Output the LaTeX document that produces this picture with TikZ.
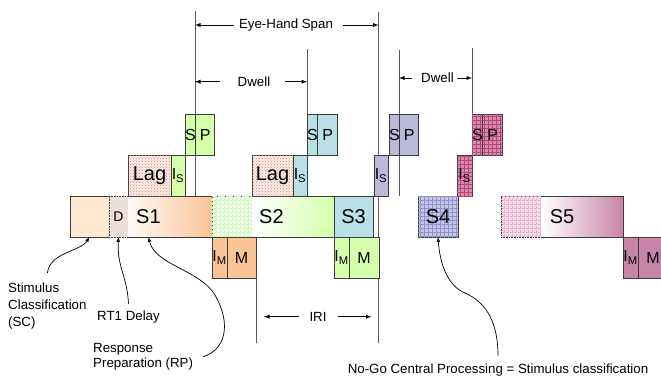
\documentclass[tikz,border=0pt]{standalone}
\usepackage{fontspec}
\setmainfont{Liberation Sans}
\usetikzlibrary{patterns,positioning,backgrounds,calc}
\tikzset{% change default arrow tips
    >=latex
}
% wider grid than the one of the patterns library
\pgfdeclarepatternformonly{wgrid}{\pgfqpoint{-1pt}{-1pt}}{\pgfqpoint{5pt}{5pt}}{\pgfqpoint{4pt}{4pt}}%
{
    \pgfsetlinewidth{0.5pt}
    \pgfpathmoveto{\pgfqpoint{0pt}{0pt}}
    \pgfpathlineto{\pgfqpoint{0pt}{4.1pt}}
    \pgfpathmoveto{\pgfqpoint{0pt}{0pt}}
    \pgfpathlineto{\pgfqpoint{4.1pt}{0pt}}
    \pgfusepath{stroke}
}
\definecolor{rimgrey}{RGB}{60,60,60}
\definecolor{lngrey}{RGB}{90,90,90}
\definecolor{peach}{RGB}{255,233,208}
\definecolor{dbeige}{RGB}{236,222,216}
\definecolor{orng}{RGB}{250,196,150}
\definecolor{lgreen}{RGB}{212,255,172}
\definecolor{ggrid}{RGB}{238,255,230}
\definecolor{ggridln}{RGB}{206,243,190}
\definecolor{lteal}{RGB}{184,224,230}
\definecolor{lav}{RGB}{186,186,216}
\definecolor{lavgrid}{RGB}{196,196,232}
\definecolor{lavln}{RGB}{145,145,202}
\definecolor{pkbase}{RGB}{216,138,176}
\definecolor{pkln}{RGB}{178,72,122}
\definecolor{pgrid}{RGB}{246,218,232}
\definecolor{pgridln}{RGB}{230,175,205}
\definecolor{mauve}{RGB}{200,132,166}
\definecolor{lagbase}{RGB}{250,236,230}
\definecolor{lagdot}{RGB}{210,140,125}

\begin{document}
\begin{tikzpicture}[x=1pt,y=-1pt]
    \newcommand{\hrow}{41} % height of every row of boxes
    \newcommand{\ysp}{114} % S P row
    \newcommand{\ylag}{155} % lag row
    \newcommand{\ymain}{196} % stages
    \newcommand{\ymot}{237} % motor row
    \newcommand{\ylow}{343} % lower end of the long lines
    \newcommand{\isub}[1]{I\textsubscript{#1}}

    % box styles
    \tikzset{
        blk/.style={draw=rimgrey, line width=0.6pt, anchor=north west,
            inner sep=0pt, outer sep=0pt, minimum height=\hrow,
            font=\fontsize{16}{16}\selectfont},
        bare/.style={blk, draw=none},
        dots/.style={blk, densely dotted},
        rim/.style={draw=rimgrey, line width=0.6pt},
        grd/.style={postaction={pattern=wgrid, pattern color=#1}},
        fgreen/.style={fill=lgreen},
        fteal/.style={fill=lteal},
        flav/.style={fill=lav},
        fpink/.style={fill=pkbase, grd=pkln},
        forng/.style={fill=orng},
        fmauve/.style={fill=mauve},
        flag/.style={fill=lagbase, postaction={pattern=crosshatch dots, pattern color=lagdot}},
        vline/.style={draw=lngrey, line width=0.8pt},
        span/.style={->, line width=0.9pt},
        note/.style={->, line width=0.7pt},
        lbl/.style={font=\fontsize{13.3}{17}\selectfont, inner sep=3pt},
        big/.style={font=\fontsize{20}{20}\selectfont, inner sep=0pt}
    }
    \useasboundingbox (0,0) rectangle (661,376);

    % stages
    \node[bare, fill=peach, minimum width=39] (sc) at (70,\ymain) {};
    \node[dots, fill=dbeige, minimum width=19, font=\fontsize{14}{14}\selectfont] (dly) at (109,\ymain) {D};
    \node[bare, left color=orng!8, right color=orng, minimum width=84] (s1) at (128,\ymain) {};
    \draw[rim] (dly.north west) -- (sc.north west) -- (sc.south west) -- (dly.south west);
    \draw[rim] (dly.north east) -- (s1.north east) -- (s1.south east) -- (dly.south east);
    \node[big, right=8pt of s1.west] (l1) {S1};

    \node[dots, fill=ggrid, grd=ggridln, minimum width=40] (g1) at (212,\ymain) {};
    \node[bare, left color=white, right color=lgreen, minimum width=82] (s2) at (252,\ymain) {};
    \draw[rim] (s2.north west) -- (s2.north east) -- (s2.south east) -- (s2.south west);
    \node[big, right=7pt of s2.west] (l2) {S2};
    \node[blk, fteal, big, minimum width=39] (s3) at (334,\ymain) {S3};
    \node[blk, fill=lavgrid, grd=lavln, big, minimum width=40] (s4) at (418,\ymain) {S4};

    \node[dots, fill=pgrid, grd=pgridln, minimum width=40] (g5) at (501,\ymain) {};
    \node[bare, left color=white, right color=mauve, minimum width=82] (s5) at (541,\ymain) {};
    \draw[rim] (s5.north west) -- (s5.north east) -- (s5.south east) -- (s5.south west);
    \node[big] (l5) at ($(g5.west)!0.5!(s5.east)$) {S5};

    % lag and I_S
    \node[blk, flag, big, minimum width=43] (lag1) at (128,\ylag) {Lag};
    \node[blk, fgreen, minimum width=14] (is1) at (171,\ylag) {\isub{S}};
    \node[blk, flag, big, minimum width=41] (lag2) at (252,\ylag) {Lag};
    \node[blk, fteal, minimum width=14] (is2) at (293,\ylag) {\isub{S}};
    \node[blk, flav, minimum width=14] (is3) at (374,\ylag) {\isub{S}};
    \node[blk, fpink, minimum width=15] (is4) at (457,\ylag) {\isub{S}};

    % S P
    \foreach \n/\x/\w/\sty in {1/185/19/fgreen, 2/307/20/fteal, 3/389/19/flav, 4/472/20/fpink}
    {
        \node[blk, \sty, minimum width=10] (sps\n) at (\x,\ysp) {S};
        \node[blk, \sty, minimum width=\w] (spp\n) at (sps\n.north east) {P};
    }

    % I_M and M
    \foreach \n/\x/\w/\sty in {1/212/29/forng, 3/334/30/fgreen, 5/623/30/fmauve}
    {
        \node[blk, \sty, minimum width=15] (im\n) at (\x,\ymot) {\isub{M}};
        \node[blk, \sty, minimum width=\w] (m\n) at (im\n.north east) {M};
    }

    % long lines
    \coordinate (top1) at (195,11);
    \coordinate (top2) at (307,49);
    \coordinate (top3) at (378.5,12);
    \coordinate (top4) at (399,50);
    \coordinate (top5) at (472,48);
    \coordinate (low1) at (256,\ylow);
    \coordinate (low3) at (378.5,\ylow);
    \begin{scope}[on background layer]
        \draw[vline] (top1) -- (top1 |- s1.north);
        \draw[vline] (top2) -- (sps2.north west);
        \draw[vline] (top3) -- (low3);
        \draw[vline] (top4) -- (top4 |- s4.north);
        \draw[vline] (top5) -- (sps4.north west);
        \draw[vline] (m1.south east) -- (low1);
    \end{scope}

    % spans
    \node[lbl] (ehs) at (286,25) {Eye-Hand Span};
    \draw[span] ([xshift=-2pt]ehs.west) -- (ehs.west -| top1);
    \draw[span] ([xshift=7pt]ehs.east) -- (ehs.east -| top3);
    \node[lbl] (dw1) at (254,81.7) {Dwell};
    \draw[span] ([xshift=-15pt]dw1.west) -- (dw1.west -| top1);
    \draw[span] ([xshift=12pt]dw1.east) -- (dw1.east -| top2);
    \node[lbl] (dw2) at (437.5,78) {Dwell};
    \draw[span] ([xshift=-6pt]dw2.west) -- (dw2.west -| top4);
    \draw[span] (dw2.east) -- (dw2.east -| top5);
    \node[lbl] (iri) at (318,316.7) {IRI};
    \draw[span, shorten >=8pt] ([xshift=-7pt]iri.west) -- (iri.west -| low1);
    \draw[span, shorten >=7pt] ([xshift=8pt]iri.east) -- (iri.east -| low3);

    % notes
    \node[lbl, align=left, anchor=north west] (scl) at (5,280) {Stimulus\\Classification\\(SC)};
    \node[lbl] (rtl) at (128.5,317) {RT1 Delay};
    \node[lbl, align=left, anchor=north west, font=\fontsize{13.3}{15}\selectfont] (rpl) at (90,340) {Response\\Preparation (RP)};
    \node[lbl] (ngl) at (498,370) {No-Go Central Processing = Stimulus classification};

    \draw[note] ([yshift=7pt]scl.north) .. controls (50,252) and (80,252) .. (sc.south);
    \draw[note] ([yshift=4pt]rtl.north) .. controls (127,275) and (117,268) .. (dly.south);
    \draw[note] ([xshift=7pt]rpl.east) .. controls (225,350) and (232,325) .. (215,295)
        .. controls (200,270) and (155,265) .. (l1 |- s1.south);
    \draw[note] ([yshift=5pt]ngl.north) .. controls (498,325) and (488,303) .. (465,293)
        .. controls (448,286) and (440,265) .. (s4.south);
\end{tikzpicture}
\end{document}
